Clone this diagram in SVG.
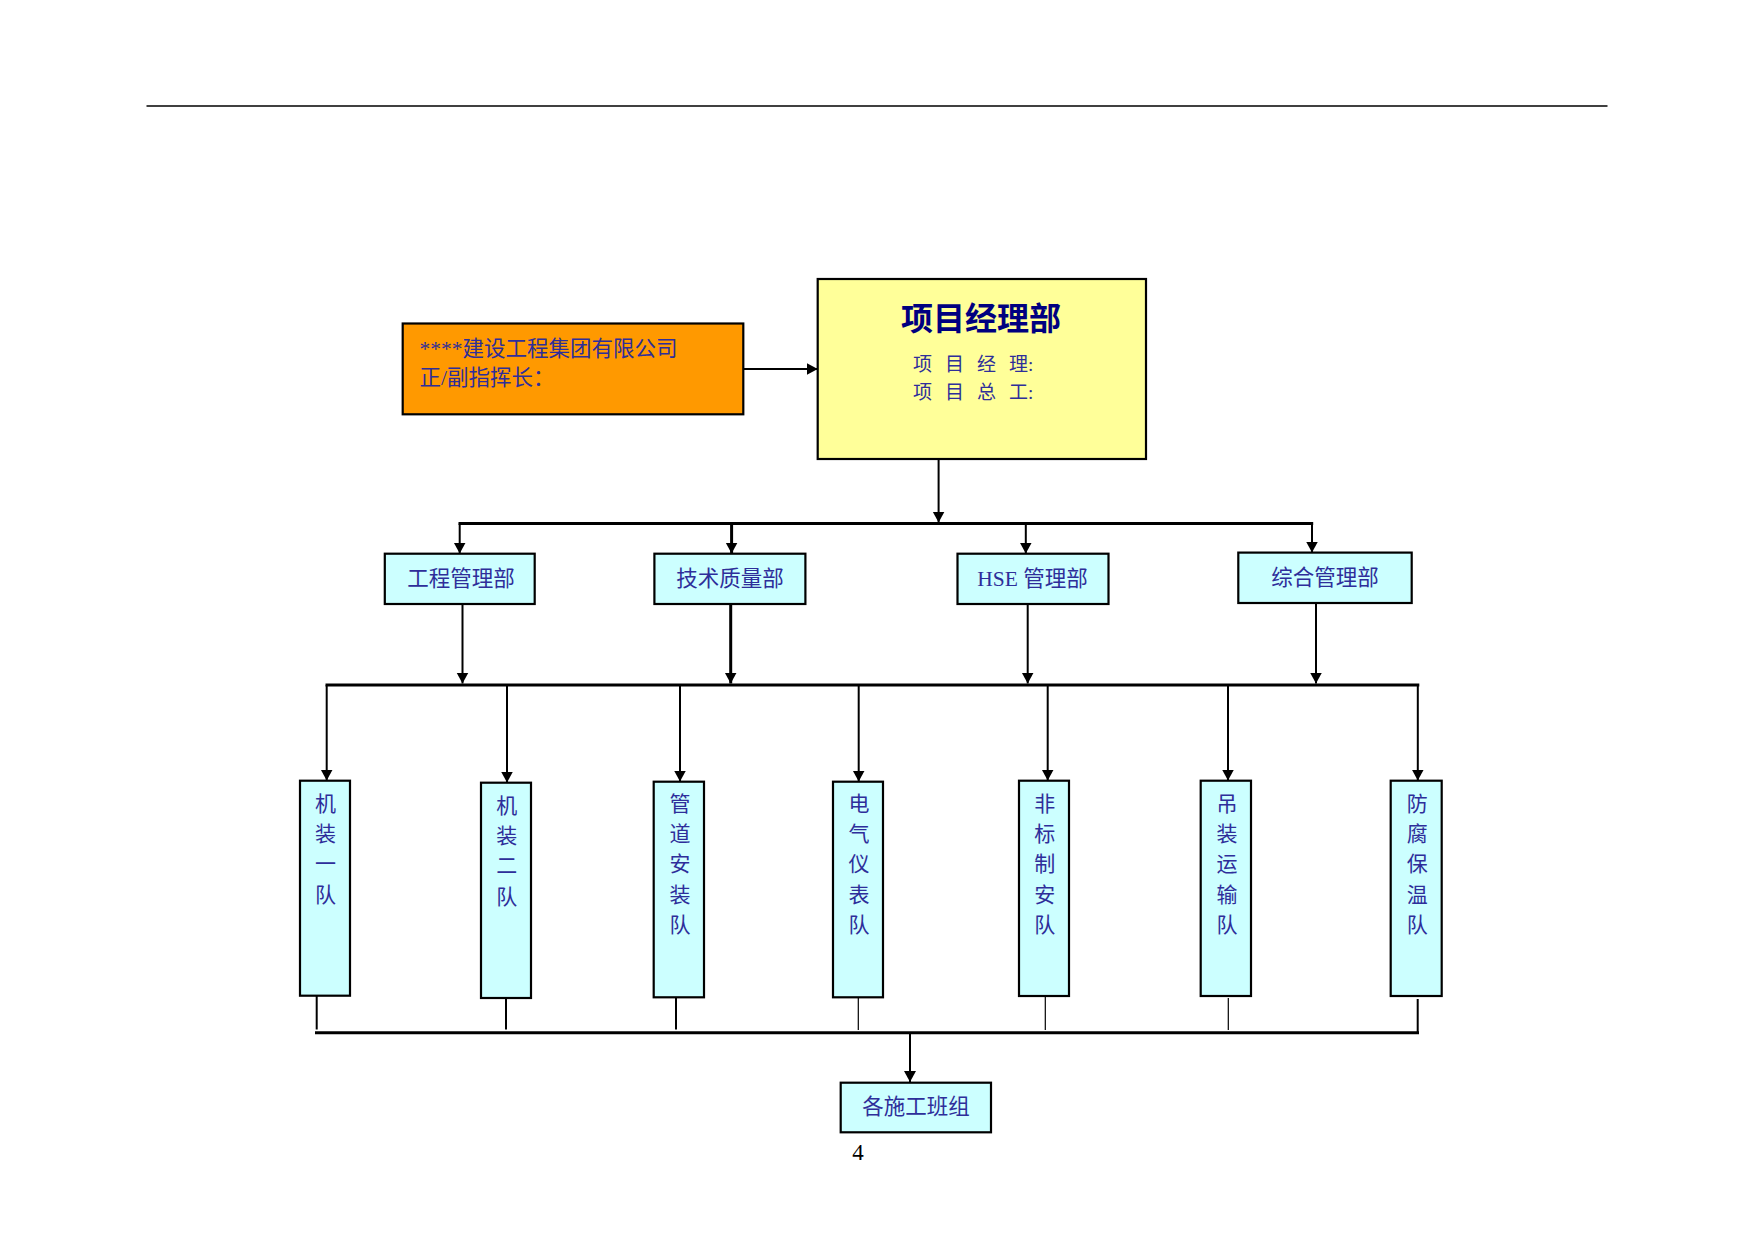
<svg xmlns="http://www.w3.org/2000/svg" width="1754" height="1241" viewBox="0 0 1754 1241">
<defs>
<style>
.box{stroke:#000;stroke-width:2.2}
.org{fill:#FF9900}
.yel{fill:#FFFF99}
.cyan{fill:#CCFFFF}
.t{font-family:"Liberation Serif","Noto Sans CJK SC",serif;fill:#2e2e9a}
.dept{font-size:21.5px;text-anchor:middle}
.team{font-size:21px;text-anchor:middle}
.ln{stroke:#000;stroke-width:2;fill:none}
.bus{stroke:#000;stroke-width:3;fill:none}
.thin{stroke:#000;stroke-width:1.2;fill:none}
</style>
<marker id="arr" markerUnits="userSpaceOnUse" markerWidth="12" markerHeight="13" refX="11" refY="6.5" orient="auto" viewBox="0 0 12 13">
<path d="M0,0.5 L11,6.5 L0,12.5 z" fill="#000"/>
</marker>
</defs>
<rect width="1754" height="1241" fill="#fff"/>
<line x1="146.5" y1="106" x2="1607.5" y2="106" stroke="#000" stroke-width="1.6"/>

<g id="company">
<rect class="box org" x="402.7" y="323.5" width="340.6" height="90.8"/>
<text class="t" x="419.5" y="355.7" font-size="21.5">****建设工程集团有限公司</text>
<text class="t" x="419.5" y="385" font-size="21.5">正/副指挥长：</text>
</g>

<g id="pm">
<rect class="box yel" x="817.7" y="279" width="328.3" height="180"/>
<text x="981" y="330" font-family="'Noto Sans CJK SC','Liberation Sans',sans-serif" font-weight="bold" font-size="32" fill="#000080" text-anchor="middle">项目经理部</text>
<text class="t" font-size="19" xml:space="preserve" x="913 932 945 964 977 996 1009 1028" y="370.7">项 目 经 理:</text>
<text class="t" font-size="19" xml:space="preserve" x="913 932 945 964 977 996 1009 1028" y="398.7">项 目 总 工:</text>
</g>

<g id="dept1"><rect class="box cyan" x="384.8" y="553.7" width="149.9" height="50.3"/><text class="t dept" x="460.9" y="586">工程管理部</text></g>
<g id="dept2"><rect class="box cyan" x="654.4" y="553.7" width="151" height="50.3"/><text class="t dept" x="730" y="586">技术质量部</text></g>
<g id="dept3"><rect class="box cyan" x="957.5" y="553.7" width="151" height="50.3"/><text class="t dept" x="1032.5" y="586">HSE 管理部</text></g>
<g id="dept4"><rect class="box cyan" x="1238.3" y="552.6" width="173.4" height="50.4"/><text class="t dept" x="1325" y="585">综合管理部</text></g>

<g id="team1"><rect class="box cyan" x="300" y="780.7" width="50" height="215"/><text class="t team" x="325.5 325.5 325.5 325.5" y="811 841.2 871.4 901.6">机装一队</text></g>
<g id="team2"><rect class="box cyan" x="481" y="782.7" width="50" height="215.3"/><text class="t team" x="506.7 506.7 506.7 506.7" y="813 843.2 873.4 903.6">机装二队</text></g>
<g id="team3"><rect class="box cyan" x="653.7" y="781.7" width="50.3" height="215.6"/><text class="t team" x="680 680 680 680 680" y="811 841.2 871.4 901.6 931.8">管道安装队</text></g>
<g id="team4"><rect class="box cyan" x="833" y="781.7" width="50" height="215.6"/><text class="t team" x="859 859 859 859 859" y="811 841.2 871.4 901.6 931.8">电气仪表队</text></g>
<g id="team5"><rect class="box cyan" x="1019" y="780.7" width="50" height="215.3"/><text class="t team" x="1044.8 1044.8 1044.8 1044.8 1044.8" y="811 841.2 871.4 901.6 931.8">非标制安队</text></g>
<g id="team6"><rect class="box cyan" x="1200.7" y="780.7" width="50.3" height="215.3"/><text class="t team" x="1227 1227 1227 1227 1227" y="811 841.2 871.4 901.6 931.8">吊装运输队</text></g>
<g id="team7"><rect class="box cyan" x="1390.7" y="780.7" width="51" height="215.3"/><text class="t team" x="1417.3 1417.3 1417.3 1417.3 1417.3" y="811 841.2 871.4 901.6 931.8">防腐保温队</text></g>

<g id="crews"><rect class="box cyan" x="840.7" y="1082.7" width="150.3" height="49.6"/><text class="t dept" x="916" y="1114">各施工班组</text></g>

<text x="858" y="1160" font-family="'Liberation Serif',serif" font-size="23" fill="#000" text-anchor="middle">4</text>

<g id="connectors">
<line class="ln" x1="743.3" y1="369" x2="817.7" y2="369" marker-end="url(#arr)"/>
<line class="ln" x1="938.6" y1="459" x2="938.6" y2="522.5" marker-end="url(#arr)"/>
<line class="bus" x1="458.5" y1="523.5" x2="1313.2" y2="523.5"/>
<line class="ln" x1="459.7" y1="523.5" x2="459.7" y2="553.5" marker-end="url(#arr)"/>
<line class="bus" x1="731.6" y1="523.5" x2="731.6" y2="553.5" marker-end="url(#arr)"/>
<line class="ln" x1="1025.8" y1="523.5" x2="1025.8" y2="553.5" marker-end="url(#arr)"/>
<line class="ln" x1="1312" y1="523.5" x2="1312" y2="552.5" marker-end="url(#arr)"/>
<line class="ln" x1="462.5" y1="604" x2="462.5" y2="683.5" marker-end="url(#arr)"/>
<line class="bus" x1="730.7" y1="604" x2="730.7" y2="683.5" marker-end="url(#arr)"/>
<line class="ln" x1="1027.7" y1="604" x2="1027.7" y2="683.5" marker-end="url(#arr)"/>
<line class="ln" x1="1316" y1="603" x2="1316" y2="683.5" marker-end="url(#arr)"/>
<line class="bus" x1="325.5" y1="685" x2="1419.3" y2="685"/>
<line class="ln" x1="326.7" y1="685" x2="326.7" y2="780.5" marker-end="url(#arr)"/>
<line class="ln" x1="507" y1="685" x2="507" y2="782.5" marker-end="url(#arr)"/>
<line class="ln" x1="680" y1="685" x2="680" y2="781.5" marker-end="url(#arr)"/>
<line class="ln" x1="858.7" y1="685" x2="858.7" y2="781.5" marker-end="url(#arr)"/>
<line class="ln" x1="1047.7" y1="685" x2="1047.7" y2="780.5" marker-end="url(#arr)"/>
<line class="ln" x1="1228" y1="685" x2="1228" y2="780.5" marker-end="url(#arr)"/>
<line class="ln" x1="1417.8" y1="685" x2="1417.8" y2="780.5" marker-end="url(#arr)"/>
<line class="ln" x1="316.7" y1="996" x2="316.7" y2="1029.5"/>
<line class="ln" x1="506" y1="998" x2="506" y2="1029.5"/>
<line class="ln" x1="676" y1="997.3" x2="676" y2="1029.5"/>
<line class="thin" x1="858.3" y1="997.3" x2="858.3" y2="1030"/>
<line class="thin" x1="1045.3" y1="996" x2="1045.3" y2="1030"/>
<line class="thin" x1="1228.3" y1="998" x2="1228.3" y2="1030"/>
<line class="ln" x1="1417.7" y1="999" x2="1417.7" y2="1033"/>
<line class="bus" x1="315" y1="1032.7" x2="1419" y2="1032.7"/>
<line class="ln" x1="910" y1="1032.7" x2="910" y2="1082" marker-end="url(#arr)"/>
</g>
</svg>
